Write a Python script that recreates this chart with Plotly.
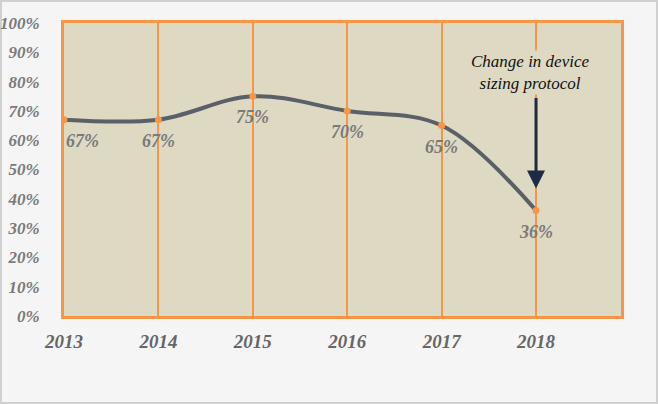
import plotly.graph_objects as go

years = [2013, 2014, 2015, 2016, 2017, 2018]
values = [67, 67, 75, 70, 65, 36]
labels = ["67%", "67%", "75%", "70%", "65%", "36%"]
label_xshift = [18, 0, 0, 0, 0, 0]
y_ticks = [0, 10, 20, 30, 40, 50, 60, 70, 80, 90, 100]
y_tick_text = [f"{v}%" for v in y_ticks]
note_text = "Change in device<br>sizing protocol"
note_year = 2018
arrow_tip = 43.5

font_serif = "Liberation Serif, Times New Roman, serif"

fig = go.Figure()
fig.add_trace(go.Scatter(
    x=years, y=values, mode="lines+markers",
    line=dict(color="#596068", width=4, shape="spline", smoothing=1.0),
    marker=dict(color="#f79646", size=7),
    hoverinfo="skip",
))

for yr, v, lab, xs in zip(years, values, labels, label_xshift):
    fig.add_annotation(
        x=yr, y=v, xref="x", yref="y", text=lab, showarrow=False,
        yshift=-21, xshift=xs,
        font=dict(family=font_serif, size=18, color="#7a7a7a", weight="bold", style="italic"),
    )

fig.add_annotation(
    x=note_year, y=arrow_tip, xref="x", yref="y",
    ax=0, ay=-92, axref="pixel", ayref="pixel",
    showarrow=True, arrowhead=2, arrowsize=1.2, arrowwidth=3,
    arrowcolor="#1f2b45", text="",
)
fig.add_annotation(
    x=note_year, y=83.0, xref="x", yref="y",
    xshift=-6,
    text=note_text, showarrow=False,
    font=dict(family=font_serif, size=17, color="#111111", style="italic"),
    bgcolor="#ddd9c3", align="center",
)

fig.update_layout(
    width=658, height=404,
    margin=dict(l=64, r=37, t=23, b=88),
    paper_bgcolor="#f5f5f5",
    plot_bgcolor="#ddd9c3",
    showlegend=False,
    xaxis=dict(
        range=[2013, 2018.9],
        tickvals=years,
        ticktext=[str(y) for y in years],
        showgrid=True, gridcolor="#f79646", gridwidth=1.5,
        zeroline=False, automargin=False,
        showline=True, linecolor="#f79646", linewidth=3, mirror=True,
        ticks="", ticklabelstandoff=6,
        tickfont=dict(family=font_serif, size=19, color="#666666", weight="bold", style="italic"),
    ),
    yaxis=dict(
        range=[0, 100],
        tickvals=y_ticks, ticktext=y_tick_text,
        showgrid=False, zeroline=False, automargin=False,
        showline=True, linecolor="#f79646", linewidth=3, mirror=True,
        ticks="", ticklabelstandoff=18,
        tickfont=dict(family=font_serif, size=17, color="#7a7a7a", weight="bold", style="italic"),
    ),
    shapes=[dict(type="rect", xref="paper", yref="paper", x0=-63/557, x1=1+36/557, y0=-87/293, y1=1+22/293,
                 line=dict(color="#d0d0d0", width=2), fillcolor="rgba(0,0,0,0)", layer="below")],
)

fig.write_html("out.html", config={"displayModeBar": False},
               post_script="document.body.style.margin='0';document.body.style.padding='0';")
